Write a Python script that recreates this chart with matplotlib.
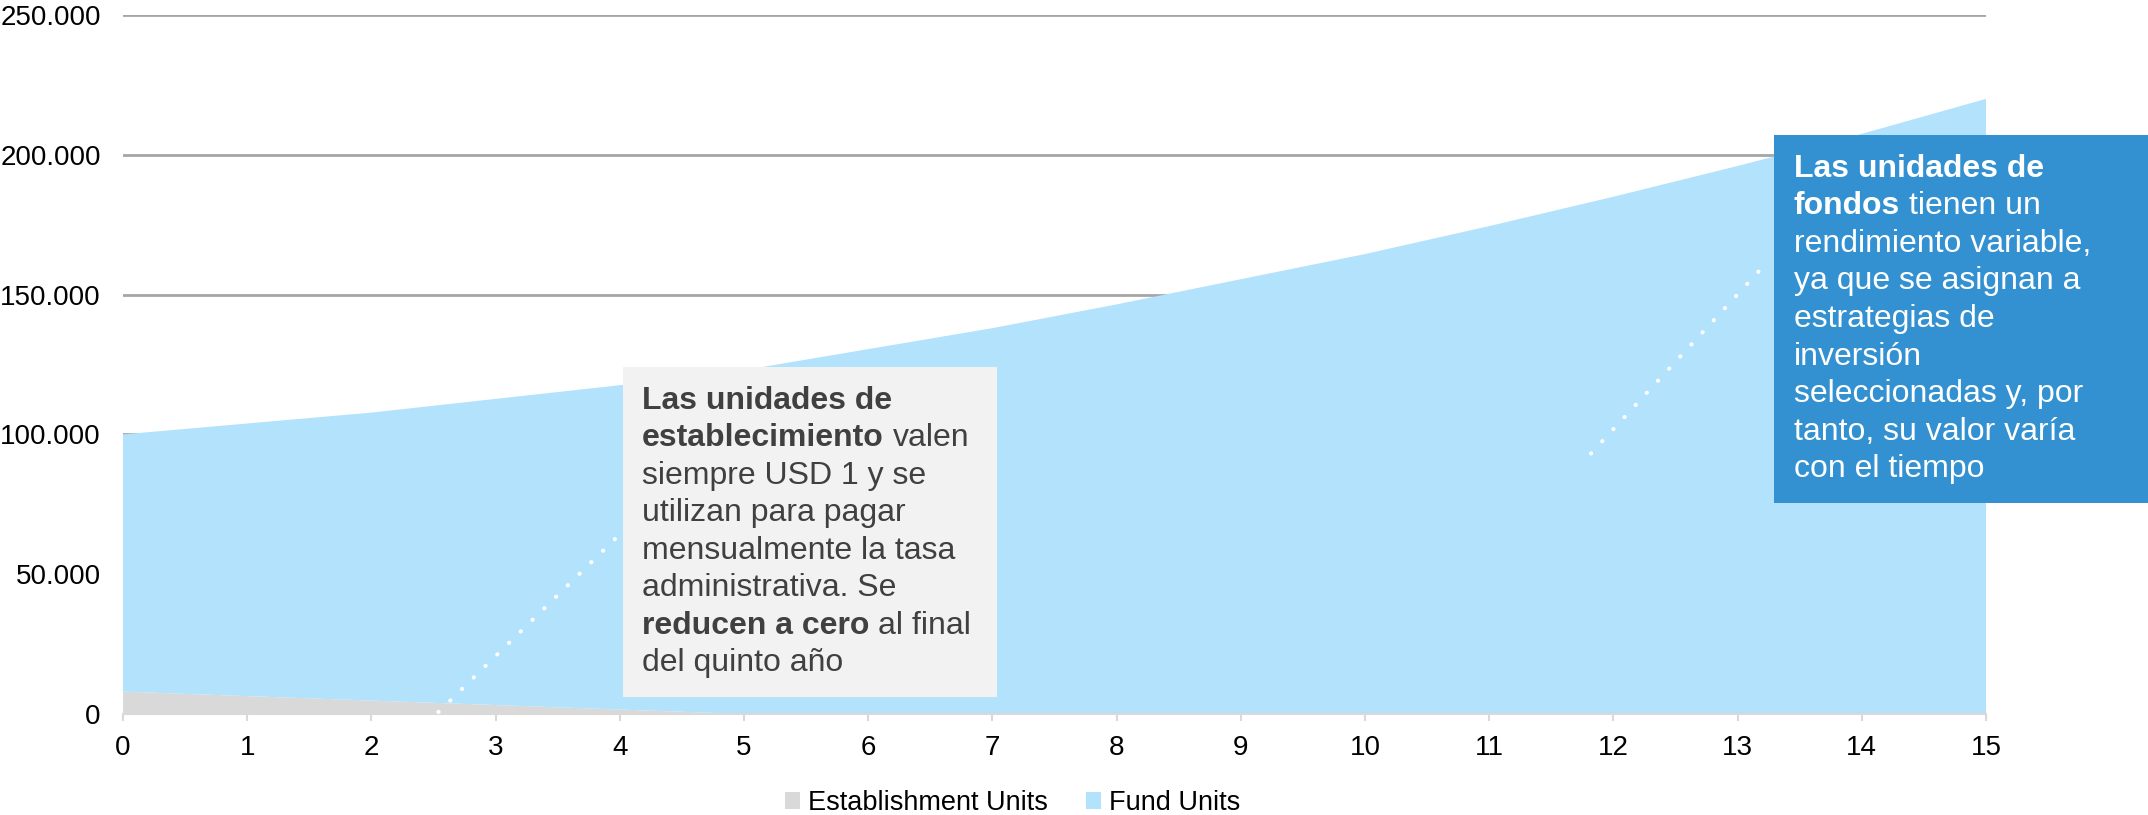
import matplotlib
matplotlib.use("Agg")
import matplotlib.pyplot as plt
from matplotlib.patches import Rectangle
from matplotlib.ticker import FuncFormatter

plt.rcParams['font.family'] = ['Liberation Sans', 'DejaVu Sans']

# values
years = list(range(16))
establishment_units = [8000, 6400, 4800, 3200, 1600, 0, 0, 0, 0, 0, 0, 0, 0, 0, 0, 0]
fund_units = [92000, 97500, 103000, 109500, 116000, 123000, 130500, 138000,
              146500, 155500, 164500, 174500, 185000, 196000, 207500, 220000]
series_labels = ['Establishment Units', 'Fund Units']
y_ticks = [0, 50000, 100000, 150000, 200000, 250000]

box1_lines = [
    [("Las unidades de", True)],
    [("establecimiento", True), ("valen", False)],
    [("siempre USD 1 y se", False)],
    [("utilizan para pagar", False)],
    [("mensualmente la tasa", False)],
    [("administrativa. Se", False)],
    [("reducen a cero", True), ("al final", False)],
    [("del quinto año", False)],
]
box2_lines = [
    [("Las unidades de", True)],
    [("fondos", True), ("tienen un", False)],
    [("rendimiento variable,", False)],
    [("ya que se asignan a", False)],
    [("estrategias de", False)],
    [("inversión", False)],
    [("seleccionadas y, por", False)],
    [("tanto, su valor varía", False)],
    [("con el tiempo", False)],
]

GREY = '#D9D9D9'
BLUE = '#B2E2FC'
W, H = 2148, 815

fig = plt.figure(figsize=(W / 100, H / 100), dpi=100)
ax = fig.add_axes([123 / W, 1 - 714 / H, (1986 - 123) / W, (714 - 15) / H])

ax.stackplot(years, establishment_units, fund_units, colors=[GREY, BLUE],
             labels=series_labels, zorder=2)

ax.set_xlim(0, 15)
ax.set_ylim(0, 250000)
ax.set_xticks(years)
ax.set_yticks(y_ticks)
ax.yaxis.set_major_formatter(FuncFormatter(lambda v, p: f"{int(v):,}".replace(",", ".")))
ax.grid(axis='y', color='#A6A6A6', lw=2, zorder=1)
ax.set_axisbelow(True)
for s in ['top', 'right', 'left']:
    ax.spines[s].set_visible(False)
ax.spines['bottom'].set_color(GREY)
ax.spines['bottom'].set_linewidth(1.5)
ax.spines['bottom'].set_zorder(3)
ax.tick_params(axis='y', length=0, pad=16, labelsize=20, labelcolor='black')
ax.tick_params(axis='x', length=5, width=1.5, color=GREY, pad=10, labelsize=20,
               labelcolor='black')

# dotted leader lines
ax.plot([2.54, 4.01], [700, 64700], color='white', lw=3,
        linestyle=(0, (0.05, 3.9)), dash_capstyle='round', zorder=4)
ax.plot([11.82, 13.22], [93200, 160700], color='white', lw=3,
        linestyle=(0, (0.05, 3.9)), dash_capstyle='round', zorder=4)

leg = fig.legend(loc='center', bbox_to_anchor=(0.4716, 0.0147), ncol=2,
                 frameon=False, fontsize=19.5, handlelength=0.55, handleheight=0.6,
                 handletextpad=0.3, columnspacing=1.4)

renderer = fig.canvas.get_renderer()
FS = 23
space_px = 0.278 * FS * 100 / 72


def draw_box(left, top, right, bottom, bg, color, lines, text_left, first_base, step=37.5):
    fig.add_artist(Rectangle((left / W, 1 - bottom / H), (right - left) / W,
                             (bottom - top) / H, transform=fig.transFigure,
                             facecolor=bg, edgecolor='none', zorder=5))
    for i, line in enumerate(lines):
        x = text_left
        y = first_base + i * step
        for j, (txt, bold) in enumerate(line):
            if j > 0:
                x += space_px
            t = fig.text(x / W, 1 - y / H, txt, fontsize=FS, color=color,
                         fontweight='bold' if bold else 'normal',
                         ha='left', va='baseline', zorder=6)
            x += t.get_window_extent(renderer).width


draw_box(623, 367, 997, 697, '#F2F2F2', '#404040', box1_lines, 642, 409)
draw_box(1774, 135, 2148, 503, '#3391D1', 'white', box2_lines, 1794, 177)

fig.savefig('out.png', dpi=100)
